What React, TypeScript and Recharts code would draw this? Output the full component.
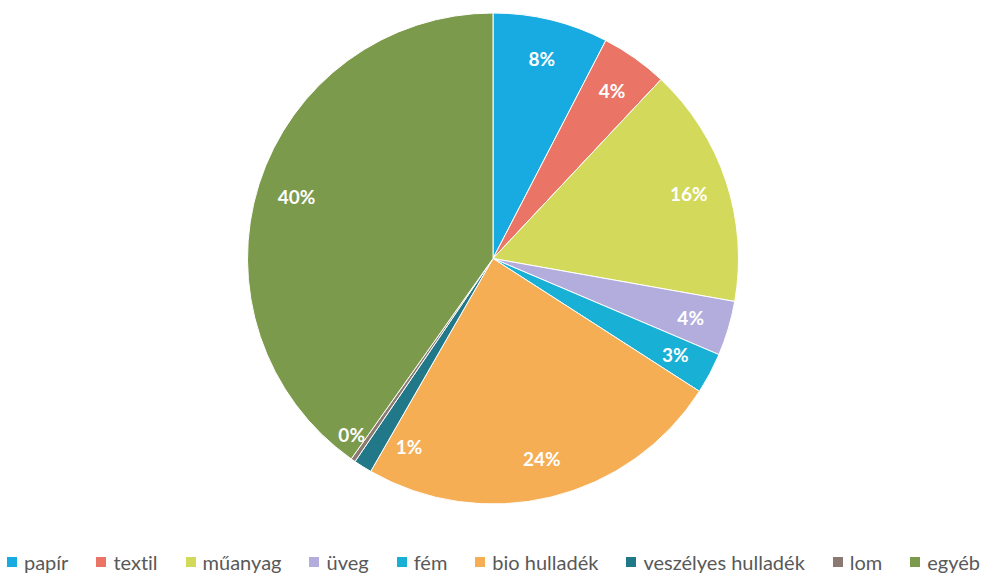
import React from 'react';
import { PieChart, Pie, Cell, Legend } from 'recharts';

const categories = ['papír', 'textil', 'műanyag', 'üveg', 'fém', 'bio hulladék', 'veszélyes hulladék', 'lom', 'egyéb'];
const shares = [7.6, 4.4, 15.8, 3.6, 2.7, 24.2, 1.2, 0.3, 40.2];
const colors = ['#18ABE2', '#EA7566', '#D3D95A', '#B3ADDD', '#19B0D6', '#F6AE55', '#217888', '#8A7A72', '#7C9A4C'];

const data = categories.map((name, i) => ({ name, value: shares[i] }));

const RAD = Math.PI / 180;
// small slices get their labels pushed apart, like the original
const nudge: Record<number, { a: number; r: number }> = {
  6: { a: 8, r: 0.84 },
  7: { a: -4, r: 0.92 },
};

const renderLabel = (props: any) => {
  const { cx, cy, midAngle, outerRadius, percent, index } = props;
  const n = nudge[index] || { a: 0, r: 0.84 };
  const ang = midAngle + n.a;
  const r = outerRadius * n.r;
  const x = cx + r * Math.cos(-ang * RAD);
  const y = cy + r * Math.sin(-ang * RAD);
  return (
    <text
      x={x}
      y={y}
      fill="#fff"
      textAnchor="middle"
      dominantBaseline="central"
      style={{ fontFamily: 'Lato', fontWeight: 700, fontSize: 19 }}
    >
      {Math.round(percent * 100)}%
    </text>
  );
};

const renderLegend = () => (
  <div
    style={{
      display: 'flex',
      justifyContent: 'center',
      gap: 28,
      fontFamily: 'Lato',
      fontSize: 20,
      color: '#595959',
      fontVariantLigatures: 'none',
    }}
  >
    {categories.map((c, i) => (
      <div key={c} style={{ display: 'flex', alignItems: 'center', gap: 7 }}>
        <span style={{ width: 10, height: 10, background: colors[i], display: 'inline-block' }} />
        <span>{c}</span>
      </div>
    ))}
  </div>
);

export default function App() {
  return (
    <div style={{ position: 'absolute', left: 0, top: 0, width: 987, height: 574, background: '#fff' }}>
      <PieChart width={987} height={574} margin={{ top: 0, right: 0, bottom: 0, left: 0 }}>
        <Pie
          data={data}
          dataKey="value"
          nameKey="name"
          cx={493}
          cy={258.5}
          outerRadius={245.5}
          startAngle={90}
          endAngle={-270}
          stroke="#fff"
          strokeWidth={1}
          label={renderLabel}
          labelLine={false}
          isAnimationActive={false}
        >
          {data.map((d, i) => (
            <Cell key={d.name} fill={colors[i]} />
          ))}
        </Pie>
        <Legend
          verticalAlign="bottom"
          content={renderLegend}
          wrapperStyle={{ bottom: 0, left: 0, width: 987 }}
        />
      </PieChart>
    </div>
  );
}
